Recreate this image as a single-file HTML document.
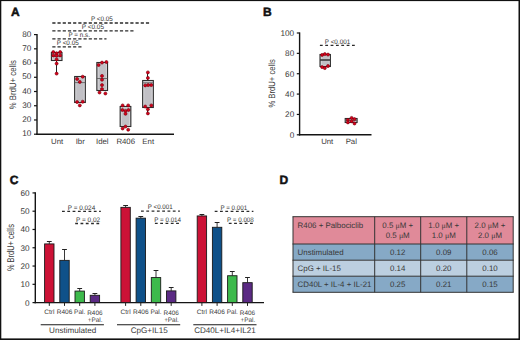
<!DOCTYPE html>
<html><head><meta charset="utf-8"><style>
html,body{margin:0;padding:0;background:#fff;}
svg{display:block;font-family:"Liberation Sans", sans-serif;}
text{text-rendering:geometricPrecision;}
</style></head><body>
<svg width="520" height="340" viewBox="0 0 520 340" font-family='"Liberation Sans", sans-serif'>
<rect width="520" height="340" fill="#fff"/>
<rect x="0.00" y="0.00" width="520.00" height="1.10" fill="#111" stroke="none" stroke-width="1"/>
<rect x="0.00" y="0.00" width="1.30" height="340.00" fill="#111" stroke="none" stroke-width="1"/>
<rect x="518.50" y="0.00" width="1.50" height="340.00" fill="#111" stroke="none" stroke-width="1"/>
<rect x="0.00" y="338.40" width="520.00" height="1.60" fill="#111" stroke="none" stroke-width="1"/>
<text x="11.00" y="15.80" font-size="12" text-anchor="start" fill="#111" font-weight="bold" stroke="#111" stroke-width="0.5">A</text>
<text x="263.00" y="15.50" font-size="12" text-anchor="start" fill="#111" font-weight="bold" stroke="#111" stroke-width="0.5">B</text>
<text x="9.80" y="184.00" font-size="12" text-anchor="start" fill="#111" font-weight="bold" stroke="#111" stroke-width="0.5">C</text>
<text x="279.50" y="183.80" font-size="12" text-anchor="start" fill="#111" font-weight="bold" stroke="#111" stroke-width="0.5">D</text>
<line x1="37.00" y1="33.99" x2="37.00" y2="134.90" stroke="#141414" stroke-width="1.4" />
<line x1="36.30" y1="134.20" x2="174.00" y2="134.20" stroke="#141414" stroke-width="1.4" />
<line x1="34.00" y1="134.20" x2="37.00" y2="134.20" stroke="#141414" stroke-width="1.2" />
<text x="31.30" y="136.40" font-size="8.2" text-anchor="end" fill="#3a3a3a" font-weight="normal" >10</text>
<line x1="34.00" y1="119.97" x2="37.00" y2="119.97" stroke="#141414" stroke-width="1.2" />
<text x="31.30" y="122.17" font-size="8.2" text-anchor="end" fill="#3a3a3a" font-weight="normal" >20</text>
<line x1="34.00" y1="105.74" x2="37.00" y2="105.74" stroke="#141414" stroke-width="1.2" />
<text x="31.30" y="107.94" font-size="8.2" text-anchor="end" fill="#3a3a3a" font-weight="normal" >30</text>
<line x1="34.00" y1="91.51" x2="37.00" y2="91.51" stroke="#141414" stroke-width="1.2" />
<text x="31.30" y="93.71" font-size="8.2" text-anchor="end" fill="#3a3a3a" font-weight="normal" >40</text>
<line x1="34.00" y1="77.28" x2="37.00" y2="77.28" stroke="#141414" stroke-width="1.2" />
<text x="31.30" y="79.48" font-size="8.2" text-anchor="end" fill="#3a3a3a" font-weight="normal" >50</text>
<line x1="34.00" y1="63.05" x2="37.00" y2="63.05" stroke="#141414" stroke-width="1.2" />
<text x="31.30" y="65.25" font-size="8.2" text-anchor="end" fill="#3a3a3a" font-weight="normal" >60</text>
<line x1="34.00" y1="48.82" x2="37.00" y2="48.82" stroke="#141414" stroke-width="1.2" />
<text x="31.30" y="51.02" font-size="8.2" text-anchor="end" fill="#3a3a3a" font-weight="normal" >70</text>
<line x1="34.00" y1="34.59" x2="37.00" y2="34.59" stroke="#141414" stroke-width="1.2" />
<text x="31.30" y="36.79" font-size="8.2" text-anchor="end" fill="#3a3a3a" font-weight="normal" >80</text>
<text transform="translate(16.30,109.20) rotate(-90)" font-size="9.4" fill="#3a3a3a" textLength="49.00" lengthAdjust="spacingAndGlyphs">% BrdU+ cells</text>
<text x="57.10" y="143.80" font-size="7.8" text-anchor="middle" fill="#3a3a3a" font-weight="normal" >Unt</text>
<text x="80.20" y="143.80" font-size="7.8" text-anchor="middle" fill="#3a3a3a" font-weight="normal" >Ibr</text>
<text x="102.30" y="143.80" font-size="7.8" text-anchor="middle" fill="#3a3a3a" font-weight="normal" >Idel</text>
<text x="125.70" y="143.80" font-size="7.8" text-anchor="middle" fill="#3a3a3a" font-weight="normal" >R406</text>
<text x="148.20" y="143.80" font-size="7.8" text-anchor="middle" fill="#3a3a3a" font-weight="normal" >Ent</text>
<line x1="52.30" y1="23.00" x2="150.80" y2="23.00" stroke="#2a2a2a" stroke-width="1.3" stroke-dasharray="3.2 2.0"/>
<line x1="52.30" y1="30.90" x2="133.50" y2="30.90" stroke="#2a2a2a" stroke-width="1.3" stroke-dasharray="3.2 2.0"/>
<line x1="52.30" y1="38.80" x2="106.50" y2="38.80" stroke="#2a2a2a" stroke-width="1.3" stroke-dasharray="3.2 2.0"/>
<line x1="52.30" y1="46.90" x2="82.00" y2="46.90" stroke="#2a2a2a" stroke-width="1.3" stroke-dasharray="3.2 2.0"/>
<text x="90.90" y="21.30" font-size="6.6" text-anchor="start" fill="#333333" font-weight="normal"  textLength="21.9" lengthAdjust="spacingAndGlyphs">P &lt;0.05</text>
<text x="81.80" y="29.30" font-size="6.6" text-anchor="start" fill="#333333" font-weight="normal"  textLength="22.2" lengthAdjust="spacingAndGlyphs">P &lt;0.05</text>
<text x="68.50" y="37.30" font-size="6.6" text-anchor="start" fill="#333333" font-weight="normal"  textLength="21.4" lengthAdjust="spacingAndGlyphs">P = n.s.</text>
<text x="56.80" y="45.40" font-size="6.6" text-anchor="start" fill="#333333" font-weight="normal"  textLength="21.9" lengthAdjust="spacingAndGlyphs">P &lt;0.05</text>
<line x1="56.50" y1="60.70" x2="56.50" y2="73.60" stroke="#222" stroke-width="1" />
<rect x="51.40" y="52.50" width="10.60" height="8.00" fill="#c1c0c5" stroke="#2e2e2e" stroke-width="1.1"/>
<rect x="52.70" y="53.80" width="8.00" height="5.40" fill="none" stroke="#dcdcde" stroke-width="0.6"/>
<line x1="51.40" y1="56.50" x2="62.00" y2="56.50" stroke="#555" stroke-width="0.8" />
<circle cx="53.30" cy="52.00" r="1.5" fill="#d9001b" stroke="#7a000d" stroke-width="0.65"/>
<circle cx="60.20" cy="52.00" r="1.5" fill="#d9001b" stroke="#7a000d" stroke-width="0.65"/>
<circle cx="56.60" cy="53.30" r="1.5" fill="#d9001b" stroke="#7a000d" stroke-width="0.65"/>
<circle cx="53.30" cy="55.40" r="1.5" fill="#d9001b" stroke="#7a000d" stroke-width="0.65"/>
<circle cx="56.60" cy="55.70" r="1.5" fill="#d9001b" stroke="#7a000d" stroke-width="0.65"/>
<circle cx="60.20" cy="55.40" r="1.5" fill="#d9001b" stroke="#7a000d" stroke-width="0.65"/>
<circle cx="56.60" cy="59.40" r="1.5" fill="#d9001b" stroke="#7a000d" stroke-width="0.65"/>
<circle cx="56.60" cy="63.60" r="1.5" fill="#d9001b" stroke="#7a000d" stroke-width="0.65"/>
<circle cx="56.60" cy="73.60" r="1.5" fill="#d9001b" stroke="#7a000d" stroke-width="0.65"/>
<rect x="74.65" y="76.50" width="10.70" height="26.00" fill="#c1c0c5" stroke="#2e2e2e" stroke-width="1.1"/>
<rect x="75.95" y="77.80" width="8.10" height="23.40" fill="none" stroke="#dcdcde" stroke-width="0.6"/>
<line x1="74.65" y1="82.60" x2="85.35" y2="82.60" stroke="#555" stroke-width="0.8" />
<circle cx="77.10" cy="78.90" r="1.5" fill="#d9001b" stroke="#7a000d" stroke-width="0.65"/>
<circle cx="82.70" cy="76.70" r="1.5" fill="#d9001b" stroke="#7a000d" stroke-width="0.65"/>
<circle cx="79.80" cy="81.90" r="1.5" fill="#d9001b" stroke="#7a000d" stroke-width="0.65"/>
<circle cx="77.10" cy="102.00" r="1.5" fill="#d9001b" stroke="#7a000d" stroke-width="0.65"/>
<circle cx="82.70" cy="101.70" r="1.5" fill="#d9001b" stroke="#7a000d" stroke-width="0.65"/>
<circle cx="79.80" cy="105.40" r="1.5" fill="#d9001b" stroke="#7a000d" stroke-width="0.65"/>
<rect x="96.85" y="62.50" width="10.70" height="28.00" fill="#c1c0c5" stroke="#2e2e2e" stroke-width="1.1"/>
<rect x="98.15" y="63.80" width="8.10" height="25.40" fill="none" stroke="#dcdcde" stroke-width="0.6"/>
<line x1="96.85" y1="78.50" x2="107.55" y2="78.50" stroke="#555" stroke-width="0.8" />
<circle cx="98.60" cy="65.00" r="1.5" fill="#d9001b" stroke="#7a000d" stroke-width="0.65"/>
<circle cx="102.00" cy="62.60" r="1.5" fill="#d9001b" stroke="#7a000d" stroke-width="0.65"/>
<circle cx="106.40" cy="62.00" r="1.5" fill="#d9001b" stroke="#7a000d" stroke-width="0.65"/>
<circle cx="102.00" cy="75.90" r="1.5" fill="#d9001b" stroke="#7a000d" stroke-width="0.65"/>
<circle cx="102.00" cy="79.70" r="1.5" fill="#d9001b" stroke="#7a000d" stroke-width="0.65"/>
<circle cx="102.00" cy="85.10" r="1.5" fill="#d9001b" stroke="#7a000d" stroke-width="0.65"/>
<circle cx="102.00" cy="89.10" r="1.5" fill="#d9001b" stroke="#7a000d" stroke-width="0.65"/>
<circle cx="99.50" cy="92.50" r="1.5" fill="#d9001b" stroke="#7a000d" stroke-width="0.65"/>
<circle cx="105.40" cy="93.50" r="1.5" fill="#d9001b" stroke="#7a000d" stroke-width="0.65"/>
<rect x="120.15" y="106.50" width="10.70" height="20.00" fill="#c1c0c5" stroke="#2e2e2e" stroke-width="1.1"/>
<rect x="121.45" y="107.80" width="8.10" height="17.40" fill="none" stroke="#dcdcde" stroke-width="0.6"/>
<line x1="120.15" y1="110.50" x2="130.85" y2="110.50" stroke="#555" stroke-width="0.8" />
<circle cx="122.60" cy="105.40" r="1.5" fill="#d9001b" stroke="#7a000d" stroke-width="0.65"/>
<circle cx="128.20" cy="105.40" r="1.5" fill="#d9001b" stroke="#7a000d" stroke-width="0.65"/>
<circle cx="122.40" cy="110.00" r="1.5" fill="#d9001b" stroke="#7a000d" stroke-width="0.65"/>
<circle cx="125.50" cy="110.90" r="1.5" fill="#d9001b" stroke="#7a000d" stroke-width="0.65"/>
<circle cx="128.50" cy="110.00" r="1.5" fill="#d9001b" stroke="#7a000d" stroke-width="0.65"/>
<circle cx="125.50" cy="113.80" r="1.5" fill="#d9001b" stroke="#7a000d" stroke-width="0.65"/>
<circle cx="125.50" cy="126.50" r="1.5" fill="#d9001b" stroke="#7a000d" stroke-width="0.65"/>
<circle cx="122.60" cy="128.50" r="1.5" fill="#d9001b" stroke="#7a000d" stroke-width="0.65"/>
<circle cx="128.20" cy="129.70" r="1.5" fill="#d9001b" stroke="#7a000d" stroke-width="0.65"/>
<line x1="147.50" y1="72.40" x2="147.50" y2="80.20" stroke="#222" stroke-width="1" />
<line x1="147.50" y1="107.60" x2="147.50" y2="113.40" stroke="#222" stroke-width="1" />
<rect x="142.65" y="80.50" width="10.70" height="27.00" fill="#c1c0c5" stroke="#2e2e2e" stroke-width="1.1"/>
<rect x="143.95" y="81.80" width="8.10" height="24.40" fill="none" stroke="#dcdcde" stroke-width="0.6"/>
<line x1="142.65" y1="82.80" x2="153.35" y2="82.80" stroke="#555" stroke-width="0.8" />
<circle cx="147.90" cy="72.40" r="1.5" fill="#d9001b" stroke="#7a000d" stroke-width="0.65"/>
<circle cx="147.90" cy="77.90" r="1.5" fill="#d9001b" stroke="#7a000d" stroke-width="0.65"/>
<circle cx="145.20" cy="85.40" r="1.5" fill="#d9001b" stroke="#7a000d" stroke-width="0.65"/>
<circle cx="148.20" cy="85.10" r="1.5" fill="#d9001b" stroke="#7a000d" stroke-width="0.65"/>
<circle cx="151.30" cy="85.10" r="1.5" fill="#d9001b" stroke="#7a000d" stroke-width="0.65"/>
<circle cx="145.20" cy="106.50" r="1.5" fill="#d9001b" stroke="#7a000d" stroke-width="0.65"/>
<circle cx="151.30" cy="105.40" r="1.5" fill="#d9001b" stroke="#7a000d" stroke-width="0.65"/>
<circle cx="147.90" cy="109.30" r="1.5" fill="#d9001b" stroke="#7a000d" stroke-width="0.65"/>
<circle cx="147.90" cy="113.40" r="1.5" fill="#d9001b" stroke="#7a000d" stroke-width="0.65"/>
<line x1="299.60" y1="32.40" x2="299.60" y2="135.50" stroke="#141414" stroke-width="1.4" />
<line x1="298.90" y1="134.80" x2="371.50" y2="134.80" stroke="#141414" stroke-width="1.4" />
<line x1="296.80" y1="134.80" x2="299.60" y2="134.80" stroke="#141414" stroke-width="1.2" />
<text x="294.20" y="137.70" font-size="8.2" text-anchor="end" fill="#3a3a3a" font-weight="normal" >0</text>
<line x1="296.80" y1="114.44" x2="299.60" y2="114.44" stroke="#141414" stroke-width="1.2" />
<text x="294.20" y="117.34" font-size="8.2" text-anchor="end" fill="#3a3a3a" font-weight="normal" >20</text>
<line x1="296.80" y1="94.08" x2="299.60" y2="94.08" stroke="#141414" stroke-width="1.2" />
<text x="294.20" y="96.98" font-size="8.2" text-anchor="end" fill="#3a3a3a" font-weight="normal" >40</text>
<line x1="296.80" y1="73.72" x2="299.60" y2="73.72" stroke="#141414" stroke-width="1.2" />
<text x="294.20" y="76.62" font-size="8.2" text-anchor="end" fill="#3a3a3a" font-weight="normal" >60</text>
<line x1="296.80" y1="53.36" x2="299.60" y2="53.36" stroke="#141414" stroke-width="1.2" />
<text x="294.20" y="56.26" font-size="8.2" text-anchor="end" fill="#3a3a3a" font-weight="normal" >80</text>
<line x1="296.80" y1="33.00" x2="299.60" y2="33.00" stroke="#141414" stroke-width="1.2" />
<text x="294.20" y="35.90" font-size="8.2" text-anchor="end" fill="#3a3a3a" font-weight="normal" >100</text>
<text transform="translate(274.90,107.60) rotate(-90)" font-size="9.2" fill="#3a3a3a" textLength="48.40" lengthAdjust="spacingAndGlyphs">% BrdU+ cells</text>
<text x="327.20" y="143.90" font-size="7.8" text-anchor="middle" fill="#3a3a3a" font-weight="normal" >Unt</text>
<text x="351.30" y="143.90" font-size="7.8" text-anchor="middle" fill="#3a3a3a" font-weight="normal" >Pal</text>
<line x1="319.90" y1="45.40" x2="354.90" y2="45.40" stroke="#2a2a2a" stroke-width="1.3" stroke-dasharray="2.8 2.55"/>
<text x="324.80" y="44.10" font-size="6.6" text-anchor="start" fill="#333333" font-weight="normal"  textLength="25.4" lengthAdjust="spacingAndGlyphs">P &lt;0.001</text>
<rect x="320.00" y="54.50" width="10.40" height="12.00" fill="#c1c0c5" stroke="#2e2e2e" stroke-width="1.1"/>
<rect x="321.30" y="55.80" width="7.80" height="9.40" fill="none" stroke="#dcdcde" stroke-width="0.6"/>
<line x1="320.00" y1="60.00" x2="330.40" y2="60.00" stroke="#555" stroke-width="0.8" />
<line x1="320.00" y1="60.00" x2="330.40" y2="60.00" stroke="#333" stroke-width="1.3" />
<circle cx="322.10" cy="54.90" r="1.5" fill="#d9001b" stroke="#7a000d" stroke-width="0.65"/>
<circle cx="324.80" cy="54.10" r="1.5" fill="#d9001b" stroke="#7a000d" stroke-width="0.65"/>
<circle cx="328.00" cy="54.60" r="1.5" fill="#d9001b" stroke="#7a000d" stroke-width="0.65"/>
<circle cx="322.10" cy="67.10" r="1.5" fill="#d9001b" stroke="#7a000d" stroke-width="0.65"/>
<circle cx="324.80" cy="68.10" r="1.5" fill="#d9001b" stroke="#7a000d" stroke-width="0.65"/>
<circle cx="328.00" cy="66.00" r="1.5" fill="#d9001b" stroke="#7a000d" stroke-width="0.65"/>
<rect x="345.20" y="118.50" width="11.90" height="4.00" fill="#c1c0c5" stroke="#2e2e2e" stroke-width="1.1"/>
<rect x="346.50" y="119.80" width="9.30" height="1.40" fill="none" stroke="#dcdcde" stroke-width="0.6"/>
<line x1="345.20" y1="120.30" x2="357.10" y2="120.30" stroke="#555" stroke-width="0.8" />
<circle cx="347.90" cy="119.90" r="1.5" fill="#d9001b" stroke="#7a000d" stroke-width="0.65"/>
<circle cx="347.90" cy="122.40" r="1.5" fill="#d9001b" stroke="#7a000d" stroke-width="0.65"/>
<circle cx="351.60" cy="117.90" r="1.5" fill="#d9001b" stroke="#7a000d" stroke-width="0.65"/>
<circle cx="351.60" cy="121.20" r="1.5" fill="#d9001b" stroke="#7a000d" stroke-width="0.65"/>
<circle cx="354.50" cy="119.10" r="1.5" fill="#d9001b" stroke="#7a000d" stroke-width="0.65"/>
<circle cx="354.50" cy="123.50" r="1.5" fill="#d9001b" stroke="#7a000d" stroke-width="0.65"/>
<line x1="35.30" y1="192.32" x2="35.30" y2="303.30" stroke="#141414" stroke-width="1.4" />
<line x1="34.60" y1="302.60" x2="264.00" y2="302.60" stroke="#141414" stroke-width="1.4" />
<line x1="32.50" y1="302.60" x2="35.30" y2="302.60" stroke="#141414" stroke-width="1.2" />
<text x="29.60" y="305.60" font-size="8.2" text-anchor="end" fill="#3a3a3a" font-weight="normal" >0</text>
<line x1="32.50" y1="284.32" x2="35.30" y2="284.32" stroke="#141414" stroke-width="1.2" />
<text x="29.60" y="287.32" font-size="8.2" text-anchor="end" fill="#3a3a3a" font-weight="normal" >10</text>
<line x1="32.50" y1="266.04" x2="35.30" y2="266.04" stroke="#141414" stroke-width="1.2" />
<text x="29.60" y="269.04" font-size="8.2" text-anchor="end" fill="#3a3a3a" font-weight="normal" >20</text>
<line x1="32.50" y1="247.76" x2="35.30" y2="247.76" stroke="#141414" stroke-width="1.2" />
<text x="29.60" y="250.76" font-size="8.2" text-anchor="end" fill="#3a3a3a" font-weight="normal" >30</text>
<line x1="32.50" y1="229.48" x2="35.30" y2="229.48" stroke="#141414" stroke-width="1.2" />
<text x="29.60" y="232.48" font-size="8.2" text-anchor="end" fill="#3a3a3a" font-weight="normal" >40</text>
<line x1="32.50" y1="211.20" x2="35.30" y2="211.20" stroke="#141414" stroke-width="1.2" />
<text x="29.60" y="214.20" font-size="8.2" text-anchor="end" fill="#3a3a3a" font-weight="normal" >50</text>
<line x1="32.50" y1="192.92" x2="35.30" y2="192.92" stroke="#141414" stroke-width="1.2" />
<text x="29.60" y="195.92" font-size="8.2" text-anchor="end" fill="#3a3a3a" font-weight="normal" >60</text>
<text transform="translate(14.40,271.10) rotate(-90)" font-size="9.8" fill="#3a3a3a" textLength="47.00" lengthAdjust="spacingAndGlyphs">% BrdU+ cells</text>
<rect x="7.00" y="227.90" width="6.90" height="3.80" fill="#b6b6b6" stroke="none" stroke-width="1"/>
<line x1="49.30" y1="243.92" x2="49.30" y2="241.50" stroke="#222" stroke-width="0.9" />
<line x1="46.90" y1="241.50" x2="51.70" y2="241.50" stroke="#222" stroke-width="1.0" />
<rect x="44.60" y="243.92" width="9.40" height="58.68" fill="#cc1236" stroke="#1a1a1a" stroke-width="0.9"/>
<line x1="49.30" y1="302.60" x2="49.30" y2="305.90" stroke="#222" stroke-width="1.0" />
<text x="49.30" y="314.00" font-size="6.5" text-anchor="middle" fill="#3a3a3a" font-weight="normal" >Ctrl</text>
<line x1="64.50" y1="260.37" x2="64.50" y2="249.50" stroke="#222" stroke-width="0.9" />
<line x1="62.10" y1="249.50" x2="66.90" y2="249.50" stroke="#222" stroke-width="1.0" />
<rect x="59.80" y="260.37" width="9.40" height="42.23" fill="#0f5189" stroke="#1a1a1a" stroke-width="0.9"/>
<line x1="64.50" y1="302.60" x2="64.50" y2="305.90" stroke="#222" stroke-width="1.0" />
<text x="64.50" y="314.00" font-size="6.5" text-anchor="middle" fill="#3a3a3a" font-weight="normal" >R406</text>
<line x1="79.70" y1="291.08" x2="79.70" y2="288.50" stroke="#222" stroke-width="0.9" />
<line x1="77.30" y1="288.50" x2="82.10" y2="288.50" stroke="#222" stroke-width="1.0" />
<rect x="75.00" y="291.08" width="9.40" height="11.52" fill="#3dba4c" stroke="#1a1a1a" stroke-width="0.9"/>
<line x1="79.70" y1="302.60" x2="79.70" y2="305.90" stroke="#222" stroke-width="1.0" />
<text x="79.70" y="314.00" font-size="6.5" text-anchor="middle" fill="#3a3a3a" font-weight="normal" >Pal.</text>
<line x1="94.90" y1="295.29" x2="94.90" y2="293.50" stroke="#222" stroke-width="0.9" />
<line x1="92.50" y1="293.50" x2="97.30" y2="293.50" stroke="#222" stroke-width="1.0" />
<rect x="90.20" y="295.29" width="9.40" height="7.31" fill="#5b2a84" stroke="#1a1a1a" stroke-width="0.9"/>
<line x1="94.90" y1="302.60" x2="94.90" y2="305.90" stroke="#222" stroke-width="1.0" />
<text x="94.90" y="314.60" font-size="6.4" text-anchor="middle" fill="#3a3a3a" font-weight="normal" >R406</text>
<text x="95.20" y="322.20" font-size="6.4" text-anchor="middle" fill="#3a3a3a" font-weight="normal" >+Pal.</text>
<line x1="40.70" y1="324.80" x2="103.90" y2="324.80" stroke="#1a1a1a" stroke-width="1.1" />
<line x1="125.60" y1="207.36" x2="125.60" y2="205.50" stroke="#222" stroke-width="0.9" />
<line x1="123.20" y1="205.50" x2="128.00" y2="205.50" stroke="#222" stroke-width="1.0" />
<rect x="120.90" y="207.36" width="9.40" height="95.24" fill="#cc1236" stroke="#1a1a1a" stroke-width="0.9"/>
<line x1="125.60" y1="302.60" x2="125.60" y2="305.90" stroke="#222" stroke-width="1.0" />
<text x="125.60" y="314.00" font-size="6.5" text-anchor="middle" fill="#3a3a3a" font-weight="normal" >Ctrl</text>
<line x1="140.80" y1="218.15" x2="140.80" y2="216.50" stroke="#222" stroke-width="0.9" />
<line x1="138.40" y1="216.50" x2="143.20" y2="216.50" stroke="#222" stroke-width="1.0" />
<rect x="136.10" y="218.15" width="9.40" height="84.45" fill="#0f5189" stroke="#1a1a1a" stroke-width="0.9"/>
<line x1="140.80" y1="302.60" x2="140.80" y2="305.90" stroke="#222" stroke-width="1.0" />
<text x="140.80" y="314.00" font-size="6.5" text-anchor="middle" fill="#3a3a3a" font-weight="normal" >R406</text>
<line x1="156.00" y1="277.56" x2="156.00" y2="270.50" stroke="#222" stroke-width="0.9" />
<line x1="153.60" y1="270.50" x2="158.40" y2="270.50" stroke="#222" stroke-width="1.0" />
<rect x="151.30" y="277.56" width="9.40" height="25.04" fill="#3dba4c" stroke="#1a1a1a" stroke-width="0.9"/>
<line x1="156.00" y1="302.60" x2="156.00" y2="305.90" stroke="#222" stroke-width="1.0" />
<text x="156.00" y="314.00" font-size="6.5" text-anchor="middle" fill="#3a3a3a" font-weight="normal" >Pal.</text>
<line x1="171.20" y1="290.90" x2="171.20" y2="287.50" stroke="#222" stroke-width="0.9" />
<line x1="168.80" y1="287.50" x2="173.60" y2="287.50" stroke="#222" stroke-width="1.0" />
<rect x="166.50" y="290.90" width="9.40" height="11.70" fill="#5b2a84" stroke="#1a1a1a" stroke-width="0.9"/>
<line x1="171.20" y1="302.60" x2="171.20" y2="305.90" stroke="#222" stroke-width="1.0" />
<text x="171.20" y="314.60" font-size="6.4" text-anchor="middle" fill="#3a3a3a" font-weight="normal" >R406</text>
<text x="171.50" y="322.20" font-size="6.4" text-anchor="middle" fill="#3a3a3a" font-weight="normal" >+Pal.</text>
<line x1="117.00" y1="324.80" x2="180.20" y2="324.80" stroke="#1a1a1a" stroke-width="1.1" />
<line x1="201.90" y1="215.95" x2="201.90" y2="214.50" stroke="#222" stroke-width="0.9" />
<line x1="199.50" y1="214.50" x2="204.30" y2="214.50" stroke="#222" stroke-width="1.0" />
<rect x="197.20" y="215.95" width="9.40" height="86.65" fill="#cc1236" stroke="#1a1a1a" stroke-width="0.9"/>
<line x1="201.90" y1="302.60" x2="201.90" y2="305.90" stroke="#222" stroke-width="1.0" />
<text x="201.90" y="314.00" font-size="6.5" text-anchor="middle" fill="#3a3a3a" font-weight="normal" >Ctrl</text>
<line x1="217.10" y1="227.29" x2="217.10" y2="222.50" stroke="#222" stroke-width="0.9" />
<line x1="214.70" y1="222.50" x2="219.50" y2="222.50" stroke="#222" stroke-width="1.0" />
<rect x="212.40" y="227.29" width="9.40" height="75.31" fill="#0f5189" stroke="#1a1a1a" stroke-width="0.9"/>
<line x1="217.10" y1="302.60" x2="217.10" y2="305.90" stroke="#222" stroke-width="1.0" />
<text x="217.10" y="314.00" font-size="6.5" text-anchor="middle" fill="#3a3a3a" font-weight="normal" >R406</text>
<line x1="232.30" y1="275.73" x2="232.30" y2="271.50" stroke="#222" stroke-width="0.9" />
<line x1="229.90" y1="271.50" x2="234.70" y2="271.50" stroke="#222" stroke-width="1.0" />
<rect x="227.60" y="275.73" width="9.40" height="26.87" fill="#3dba4c" stroke="#1a1a1a" stroke-width="0.9"/>
<line x1="232.30" y1="302.60" x2="232.30" y2="305.90" stroke="#222" stroke-width="1.0" />
<text x="232.30" y="314.00" font-size="6.5" text-anchor="middle" fill="#3a3a3a" font-weight="normal" >Pal.</text>
<line x1="247.50" y1="282.67" x2="247.50" y2="277.50" stroke="#222" stroke-width="0.9" />
<line x1="245.10" y1="277.50" x2="249.90" y2="277.50" stroke="#222" stroke-width="1.0" />
<rect x="242.80" y="282.67" width="9.40" height="19.93" fill="#5b2a84" stroke="#1a1a1a" stroke-width="0.9"/>
<line x1="247.50" y1="302.60" x2="247.50" y2="305.90" stroke="#222" stroke-width="1.0" />
<text x="247.50" y="314.60" font-size="6.4" text-anchor="middle" fill="#3a3a3a" font-weight="normal" >R406</text>
<text x="247.80" y="322.20" font-size="6.4" text-anchor="middle" fill="#3a3a3a" font-weight="normal" >+Pal.</text>
<line x1="193.30" y1="324.80" x2="256.50" y2="324.80" stroke="#1a1a1a" stroke-width="1.1" />
<text x="72.70" y="333.10" font-size="8.1" text-anchor="middle" fill="#3a3a3a" font-weight="normal" >Unstimulated</text>
<text x="149.20" y="333.10" font-size="8.1" text-anchor="middle" fill="#3a3a3a" font-weight="normal" >CpG+IL15</text>
<text x="225.00" y="333.10" font-size="8.1" text-anchor="middle" fill="#3a3a3a" font-weight="normal" >CD40L+IL4+IL21</text>
<line x1="62.00" y1="211.30" x2="100.80" y2="211.30" stroke="#2a2a2a" stroke-width="1.3" stroke-dasharray="2.8 2.5"/>
<text x="67.80" y="209.50" font-size="6.6" text-anchor="start" fill="#333333" font-weight="normal"  textLength="27.4" lengthAdjust="spacingAndGlyphs">P = 0.024</text>
<line x1="75.20" y1="223.50" x2="100.20" y2="223.50" stroke="#2a2a2a" stroke-width="1.3" stroke-dasharray="2.8 2.5"/>
<text x="75.90" y="222.00" font-size="6.6" text-anchor="start" fill="#333333" font-weight="normal"  textLength="24.3" lengthAdjust="spacingAndGlyphs">P = 0.02</text>
<line x1="141.00" y1="211.20" x2="179.90" y2="211.20" stroke="#2a2a2a" stroke-width="1.3" stroke-dasharray="2.8 2.5"/>
<text x="147.80" y="209.40" font-size="6.6" text-anchor="start" fill="#333333" font-weight="normal"  textLength="24.8" lengthAdjust="spacingAndGlyphs">P &lt;0.001</text>
<line x1="154.90" y1="223.30" x2="179.50" y2="223.30" stroke="#2a2a2a" stroke-width="1.3" stroke-dasharray="2.8 2.5"/>
<text x="154.20" y="222.00" font-size="6.6" text-anchor="start" fill="#333333" font-weight="normal"  textLength="26.9" lengthAdjust="spacingAndGlyphs">P = 0.014</text>
<line x1="214.70" y1="211.30" x2="253.40" y2="211.30" stroke="#2a2a2a" stroke-width="1.3" stroke-dasharray="2.8 2.5"/>
<text x="220.40" y="209.50" font-size="6.6" text-anchor="start" fill="#333333" font-weight="normal"  textLength="26.7" lengthAdjust="spacingAndGlyphs">P = 0.001</text>
<line x1="228.80" y1="223.40" x2="253.40" y2="223.40" stroke="#2a2a2a" stroke-width="1.3" stroke-dasharray="2.8 2.5"/>
<text x="227.10" y="221.80" font-size="6.6" text-anchor="start" fill="#333333" font-weight="normal"  textLength="26.7" lengthAdjust="spacingAndGlyphs">P = 0.008</text>
<rect x="293.00" y="216.70" width="220.20" height="27.30" fill="#e08a99" stroke="none" stroke-width="1"/>
<rect x="293.00" y="244.00" width="220.20" height="16.20" fill="#86a9c6" stroke="none" stroke-width="1"/>
<rect x="293.00" y="260.20" width="220.20" height="16.00" fill="#bccfe0" stroke="none" stroke-width="1"/>
<rect x="293.00" y="276.20" width="220.20" height="16.10" fill="#86a9c6" stroke="none" stroke-width="1"/>
<line x1="293.00" y1="216.70" x2="293.00" y2="292.30" stroke="#333" stroke-width="1" />
<line x1="374.70" y1="216.70" x2="374.70" y2="292.30" stroke="#333" stroke-width="1" />
<line x1="420.70" y1="216.70" x2="420.70" y2="292.30" stroke="#333" stroke-width="1" />
<line x1="466.80" y1="216.70" x2="466.80" y2="292.30" stroke="#333" stroke-width="1" />
<line x1="513.20" y1="216.70" x2="513.20" y2="292.30" stroke="#333" stroke-width="1" />
<line x1="292.50" y1="216.70" x2="513.70" y2="216.70" stroke="#333" stroke-width="1" />
<line x1="292.50" y1="244.00" x2="513.70" y2="244.00" stroke="#333" stroke-width="1" />
<line x1="292.50" y1="260.20" x2="513.70" y2="260.20" stroke="#333" stroke-width="1" />
<line x1="292.50" y1="276.20" x2="513.70" y2="276.20" stroke="#333" stroke-width="1" />
<line x1="292.50" y1="292.30" x2="513.70" y2="292.30" stroke="#333" stroke-width="1" />
<text x="297.60" y="227.80" font-size="7.9" text-anchor="start" fill="#383838" font-weight="normal" >R406 + Palbociclib</text>
<text x="397.70" y="228.3" font-size="7.9" text-anchor="middle" fill="#383838">0.5 <tspan font-family="Liberation Serif">&#956;</tspan>M +</text>
<text x="397.70" y="238.3" font-size="7.9" text-anchor="middle" fill="#383838">0.5 <tspan font-family="Liberation Serif">&#956;</tspan>M</text>
<text x="443.75" y="228.3" font-size="7.9" text-anchor="middle" fill="#383838">1.0 <tspan font-family="Liberation Serif">&#956;</tspan>M +</text>
<text x="443.75" y="238.3" font-size="7.9" text-anchor="middle" fill="#383838">1.0 <tspan font-family="Liberation Serif">&#956;</tspan>M</text>
<text x="490.00" y="228.3" font-size="7.9" text-anchor="middle" fill="#383838">2.0 <tspan font-family="Liberation Serif">&#956;</tspan>M +</text>
<text x="490.00" y="238.3" font-size="7.9" text-anchor="middle" fill="#383838">2.0 <tspan font-family="Liberation Serif">&#956;</tspan>M</text>
<text x="297.60" y="254.60" font-size="7.9" text-anchor="start" fill="#383838" font-weight="normal" >Unstimulated</text>
<text x="397.70" y="254.60" font-size="7.9" text-anchor="middle" fill="#383838" font-weight="normal" >0.12</text>
<text x="443.75" y="254.60" font-size="7.9" text-anchor="middle" fill="#383838" font-weight="normal" >0.09</text>
<text x="490.00" y="254.60" font-size="7.9" text-anchor="middle" fill="#383838" font-weight="normal" >0.06</text>
<text x="297.60" y="270.70" font-size="7.9" text-anchor="start" fill="#383838" font-weight="normal" >CpG + IL-15</text>
<text x="397.70" y="270.70" font-size="7.9" text-anchor="middle" fill="#383838" font-weight="normal" >0.14</text>
<text x="443.75" y="270.70" font-size="7.9" text-anchor="middle" fill="#383838" font-weight="normal" >0.20</text>
<text x="490.00" y="270.70" font-size="7.9" text-anchor="middle" fill="#383838" font-weight="normal" >0.10</text>
<text x="297.60" y="286.75" font-size="7.9" text-anchor="start" fill="#383838" font-weight="normal" >CD40L + IL-4 + IL-21</text>
<text x="397.70" y="286.75" font-size="7.9" text-anchor="middle" fill="#383838" font-weight="normal" >0.25</text>
<text x="443.75" y="286.75" font-size="7.9" text-anchor="middle" fill="#383838" font-weight="normal" >0.21</text>
<text x="490.00" y="286.75" font-size="7.9" text-anchor="middle" fill="#383838" font-weight="normal" >0.15</text>
</svg>
</body></html>
